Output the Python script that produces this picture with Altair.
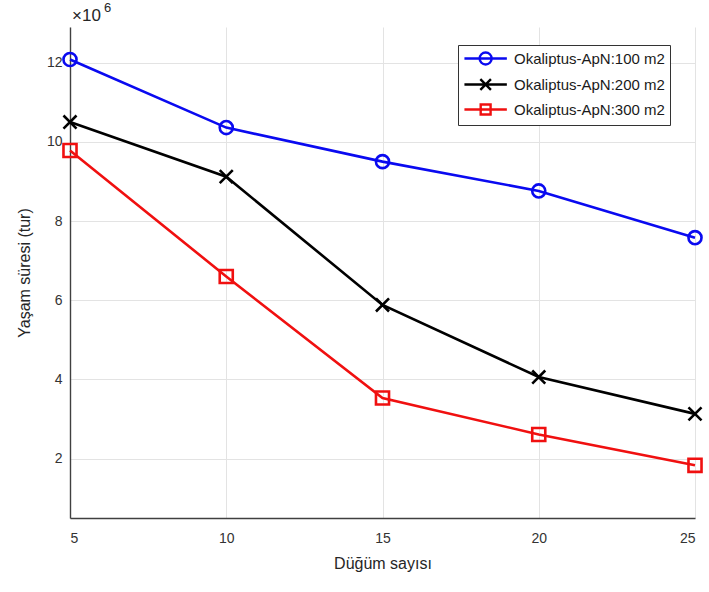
import altair as alt
import pandas as pd

nodes = [5, 10, 15, 20, 25]
series_names = ["Okaliptus-ApN:100 m2", "Okaliptus-ApN:200 m2", "Okaliptus-ApN:300 m2"]
s100 = [12.08, 10.36, 9.50, 8.76, 7.58]
s200 = [10.50, 9.12, 5.88, 4.06, 3.13]
s300 = [9.78, 6.60, 3.53, 2.61, 1.83]
colors = ["#0a0af0", "#000000", "#f01010"]

rows = []
for name, vals in zip(series_names, [s100, s200, s300]):
    for n, v in zip(nodes, vals):
        rows.append({"series": name, "node": n, "life": v})
df = pd.DataFrame(rows)

FONT = "Liberation Sans"
color_scale = alt.Scale(domain=series_names, range=colors)
marker_paths = [
    "circle",
    "M-1,-1L1,1M-1,1L1,-1",
    "square",
]
# legend symbols: line from -1 to 5 units, marker centred at 2
legend_paths = [
    "M-1,0L5,0M1.15,0A0.85,0.85 0 1,0 2.85,0A0.85,0.85 0 1,0 1.15,0",
    "M-1,0L5,0M1.25,-0.75L2.75,0.75M1.25,0.75L2.75,-0.75",
    "M-1,0L5,0M1.3,-0.7L2.7,-0.7L2.7,0.7L1.3,0.7Z",
]

x_enc = alt.X("node:Q", scale=alt.Scale(domain=[5, 25], nice=False),
              axis=alt.Axis(values=nodes, title="Düğüm sayısı", grid=True, ticks=False,
                            labelPadding=13, titlePadding=10))
y_enc = alt.Y("life:Q", scale=alt.Scale(domain=[0.5, 12.9], nice=False, zero=False),
              axis=alt.Axis(values=[2, 4, 6, 8, 10, 12], title="Yaşam süresi (tur)", grid=True,
                            ticks=False, labelPadding=8, titlePadding=14))

base = alt.Chart(df)

lines = base.mark_line(strokeWidth=2.6).encode(
    x=x_enc, y=y_enc,
    color=alt.Color("series:N", scale=color_scale, legend=None),
    detail="series:N",
)

points = base.mark_point(filled=False, strokeWidth=2.6, size=170, opacity=1).encode(
    x="node:Q", y="life:Q",
    color=alt.Color("series:N", scale=color_scale, legend=None),
    shape=alt.Shape("series:N", scale=alt.Scale(domain=series_names, range=marker_paths), legend=None),
)

leg = dict(title=None, orient="none", legendX=388, legendY=18,
           symbolSize=200, symbolStrokeWidth=2.4,
           labelFontSize=15, labelFont=FONT, labelColor="#1a1a1a",
           labelOffset=34, rowPadding=4, padding=5,
           strokeColor="#333333", fillColor="white", cornerRadius=0)

legend_layer = base.transform_filter("false").mark_point(filled=False, strokeWidth=2.4, opacity=1).encode(
    x="node:Q", y="life:Q",
    color=alt.Color("series:N", scale=color_scale, legend=alt.Legend(**leg)),
    shape=alt.Shape("series:N", scale=alt.Scale(domain=series_names, range=legend_paths),
                    legend=alt.Legend(**leg)),
)

exp_df = pd.DataFrame({"t": ["×10"]})
exp_text = alt.Chart(exp_df).mark_text(align="left", baseline="middle", fontSize=17, font=FONT,
                                       color="#262626").encode(
    x=alt.value(2), y=alt.value(-11), text="t:N")
sup_df = pd.DataFrame({"t": ["6"]})
sup_text = alt.Chart(sup_df).mark_text(align="left", baseline="middle", fontSize=13, font=FONT,
                                       color="#262626").encode(
    x=alt.value(34), y=alt.value(-19), text="t:N")

chart = alt.layer(lines, points, legend_layer, exp_text, sup_text).resolve_scale(
    shape="independent", color="independent"
).properties(
    width=625, height=491,
    background="white",
    autosize=alt.AutoSizeParams(type="none"),
    padding={"left": 70, "top": 27, "right": 14, "bottom": 74},
).configure_view(stroke=None).configure_axis(
    domainColor="#404040", domainWidth=1.4, gridColor="#e3e3e3", gridWidth=1,
    labelFont=FONT, labelFontSize=14, labelColor="#333333",
    titleFont=FONT, titleFontSize=16, titleFontWeight="normal", titleColor="#262626",
)

chart.save("out.html", embed_options={"renderer": "svg", "actions": False})
